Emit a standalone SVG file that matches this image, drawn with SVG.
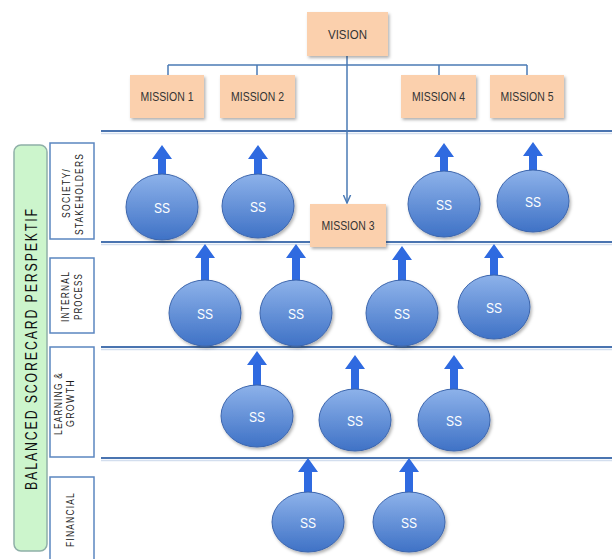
<svg xmlns="http://www.w3.org/2000/svg" width="612" height="559" viewBox="0 0 612 559">
  <defs>
    <linearGradient id="ssFill" x1="0" y1="0" x2="0" y2="1">
      <stop offset="0" stop-color="#8db2ea"/>
      <stop offset="1" stop-color="#3f72c6"/>
    </linearGradient>
    <filter id="shadow" x="-20%" y="-20%" width="150%" height="150%">
      <feDropShadow dx="1.5" dy="2" stdDeviation="1.5" flood-color="#000" flood-opacity="0.3"/>
    </filter>
    <marker id="arrowDown" viewBox="0 0 10 10" refX="9" refY="5" markerWidth="6" markerHeight="6" orient="auto">
      <path d="M0,1 L9,5 L0,9" fill="none" stroke="#4a7ab5" stroke-width="1.6"/>
    </marker>
  </defs>
  <style>
    .box { fill: #fbd0ad; filter: url(#shadow); }
    .boxText { font-family: "Liberation Sans", sans-serif; font-size: 13px; fill: #333; text-anchor: middle; }
    .conn { stroke: #4a7ab5; stroke-width: 1.5; fill: none; }
    .band { stroke: #4a74b0; stroke-width: 2.2; }
    .bandShade { stroke: #d3deee; stroke-width: 1.5; }
    .ss { fill: url(#ssFill); stroke: #3d66ad; stroke-width: 1; filter: url(#shadow); }
    .ssText { font-family: "Liberation Sans", sans-serif; font-size: 15px; fill: #ffffff; text-anchor: middle; }
    .up { fill: #2f6ae0; }
    .label { fill: #ffffff; stroke: #5b86c0; stroke-width: 1.5; }
    .labelText { font-family: "Liberation Sans", sans-serif; font-size: 10.5px; fill: #1a1a1a; text-anchor: middle; letter-spacing: 1.5px; }
    .title { font-family: "Liberation Sans", sans-serif; font-size: 16.5px; fill: #111; text-anchor: middle; letter-spacing: 2.5px; }
  </style>

  <!-- perspective band separators -->
  <g id="bands">
    <line class="bandShade" x1="101" y1="133.5" x2="612" y2="133.5"/>
    <line class="band" x1="101" y1="131" x2="612" y2="131"/>
    <line class="bandShade" x1="101" y1="244.5" x2="612" y2="244.5"/>
    <line class="band" x1="101" y1="242" x2="612" y2="242"/>
    <line class="bandShade" x1="101" y1="349.5" x2="612" y2="349.5"/>
    <line class="band" x1="101" y1="347" x2="612" y2="347"/>
    <line class="bandShade" x1="101" y1="460.5" x2="612" y2="460.5"/>
    <line class="band" x1="101" y1="458" x2="612" y2="458"/>
  </g>

  <!-- side title -->
  <g id="title">
    <rect x="14" y="145" width="33" height="406" rx="7" fill="#ccf5cc" stroke="#8fb0a8" stroke-width="1.5"/>
    <text class="title" transform="translate(37,348.5) rotate(-90)" textLength="283" lengthAdjust="spacingAndGlyphs">BALANCED SCORECARD PERSPEKTIF</text>
  </g>

  <!-- perspective labels -->
  <g id="label-society">
    <rect class="label" x="50" y="143" width="44" height="96"/>
    <text class="labelText" transform="translate(69.5,193) rotate(-90)" textLength="50" lengthAdjust="spacingAndGlyphs">SOCIETY/</text>
    <text class="labelText" transform="translate(83,194) rotate(-90)" textLength="82" lengthAdjust="spacingAndGlyphs">STAKEHOLDERS</text>
  </g>
  <g id="label-internal">
    <rect class="label" x="50" y="258" width="44" height="75"/>
    <text class="labelText" transform="translate(69,296.5) rotate(-90)" textLength="51" lengthAdjust="spacingAndGlyphs">INTERNAL</text>
    <text class="labelText" transform="translate(82,296.5) rotate(-90)" textLength="47" lengthAdjust="spacingAndGlyphs">PROCESS</text>
  </g>
  <g id="label-learning">
    <rect class="label" x="50" y="347" width="44" height="110"/>
    <text class="labelText" transform="translate(62,403.5) rotate(-90)" textLength="63" lengthAdjust="spacingAndGlyphs">LEARNING &amp;</text>
    <text class="labelText" transform="translate(73.5,403) rotate(-90)" textLength="48" lengthAdjust="spacingAndGlyphs">GROWTH</text>
  </g>
  <g id="label-financial">
    <rect class="label" x="50" y="477" width="44" height="84"/>
    <text class="labelText" transform="translate(74,519.5) rotate(-90)" textLength="55" lengthAdjust="spacingAndGlyphs">FINANCIAL</text>
  </g>

  <!-- vision to mission connectors -->
  <g id="connectors">
    <line class="conn" x1="347" y1="56" x2="347" y2="203" marker-end="url(#arrowDown)"/>
    <line class="conn" x1="168" y1="65" x2="527" y2="65"/>
    <line class="conn" x1="168" y1="65" x2="168" y2="75"/>
    <line class="conn" x1="257" y1="65" x2="257" y2="75"/>
    <line class="conn" x1="439" y1="65" x2="439" y2="75"/>
    <line class="conn" x1="527" y1="65" x2="527" y2="75"/>
  </g>

  <g id="vision">
    <rect class="box" x="307" y="12" width="81" height="44"/>
    <text class="boxText" x="347.5" y="39" textLength="39" lengthAdjust="spacingAndGlyphs">VISION</text>
  </g>
  <g id="mission-1">
    <rect class="box" x="130" y="75" width="74" height="43"/>
    <text class="boxText" x="167" y="101" textLength="53" lengthAdjust="spacingAndGlyphs">MISSION 1</text>
  </g>
  <g id="mission-2">
    <rect class="box" x="220" y="75" width="75" height="43"/>
    <text class="boxText" x="257.5" y="101" textLength="53" lengthAdjust="spacingAndGlyphs">MISSION 2</text>
  </g>
  <g id="mission-3">
    <rect class="box" x="310" y="204" width="76" height="43"/>
    <text class="boxText" x="348" y="230" textLength="53" lengthAdjust="spacingAndGlyphs">MISSION 3</text>
  </g>
  <g id="mission-4">
    <rect class="box" x="401" y="75" width="75" height="43"/>
    <text class="boxText" x="438.5" y="101" textLength="53" lengthAdjust="spacingAndGlyphs">MISSION 4</text>
  </g>
  <g id="mission-5">
    <rect class="box" x="490" y="75" width="74" height="43"/>
    <text class="boxText" x="527" y="101" textLength="53" lengthAdjust="spacingAndGlyphs">MISSION 5</text>
  </g>

  <!-- strategic objectives: upward arrow + ellipse -->
  <g id="ss-society-1">
    <path class="up" d="M162,145 L172,159 L166,159 L166,180 L158,180 L158,159 L152,159 Z"/>
    <ellipse class="ss" cx="162" cy="207" rx="36" ry="33"/>
    <text class="ssText" x="162" y="213" textLength="16" lengthAdjust="spacingAndGlyphs">SS</text>
  </g>
  <g id="ss-society-2">
    <path class="up" d="M258,145 L268,159 L262,159 L262,180 L254,180 L254,159 L248,159 Z"/>
    <ellipse class="ss" cx="258" cy="206" rx="36" ry="32"/>
    <text class="ssText" x="258" y="212" textLength="16" lengthAdjust="spacingAndGlyphs">SS</text>
  </g>
  <g id="ss-society-3">
    <path class="up" d="M444,143 L454,157 L448,157 L448,176 L440,176 L440,157 L434,157 Z"/>
    <ellipse class="ss" cx="444" cy="204" rx="36" ry="33"/>
    <text class="ssText" x="444" y="210" textLength="16" lengthAdjust="spacingAndGlyphs">SS</text>
  </g>
  <g id="ss-society-4">
    <path class="up" d="M533,142 L543,156 L537,156 L537,174 L529,174 L529,156 L523,156 Z"/>
    <ellipse class="ss" cx="533" cy="201" rx="36" ry="31"/>
    <text class="ssText" x="533" y="207" textLength="16" lengthAdjust="spacingAndGlyphs">SS</text>
  </g>

  <g id="ss-internal-1">
    <path class="up" d="M205,244 L215,258 L209,258 L209,286 L201,286 L201,258 L195,258 Z"/>
    <ellipse class="ss" cx="205" cy="313" rx="36" ry="33"/>
    <text class="ssText" x="205" y="319" textLength="16" lengthAdjust="spacingAndGlyphs">SS</text>
  </g>
  <g id="ss-internal-2">
    <path class="up" d="M296,244 L306,258 L300,258 L300,286 L292,286 L292,258 L286,258 Z"/>
    <ellipse class="ss" cx="296" cy="313" rx="36" ry="33"/>
    <text class="ssText" x="296" y="319" textLength="16" lengthAdjust="spacingAndGlyphs">SS</text>
  </g>
  <g id="ss-internal-3">
    <path class="up" d="M402,246 L412,260 L406,260 L406,286 L398,286 L398,260 L392,260 Z"/>
    <ellipse class="ss" cx="402" cy="313" rx="36" ry="33"/>
    <text class="ssText" x="402" y="319" textLength="16" lengthAdjust="spacingAndGlyphs">SS</text>
  </g>
  <g id="ss-internal-4">
    <path class="up" d="M494,244 L504,258 L498,258 L498,280 L490,280 L490,258 L484,258 Z"/>
    <ellipse class="ss" cx="494" cy="307" rx="36" ry="32"/>
    <text class="ssText" x="494" y="313" textLength="16" lengthAdjust="spacingAndGlyphs">SS</text>
  </g>

  <g id="ss-learning-1">
    <path class="up" d="M257,351 L267,365 L261,365 L261,390 L253,390 L253,365 L247,365 Z"/>
    <ellipse class="ss" cx="257" cy="416" rx="36" ry="31"/>
    <text class="ssText" x="257" y="422" textLength="16" lengthAdjust="spacingAndGlyphs">SS</text>
  </g>
  <g id="ss-learning-2">
    <path class="up" d="M355,355 L365,369 L359,369 L359,395 L351,395 L351,369 L345,369 Z"/>
    <ellipse class="ss" cx="355" cy="420" rx="36" ry="31"/>
    <text class="ssText" x="355" y="426" textLength="16" lengthAdjust="spacingAndGlyphs">SS</text>
  </g>
  <g id="ss-learning-3">
    <path class="up" d="M454,355 L464,369 L458,369 L458,395 L450,395 L450,369 L444,369 Z"/>
    <ellipse class="ss" cx="454" cy="420" rx="36" ry="31"/>
    <text class="ssText" x="454" y="426" textLength="16" lengthAdjust="spacingAndGlyphs">SS</text>
  </g>

  <g id="ss-financial-1">
    <path class="up" d="M308,458 L318,472 L312,472 L312,497 L304,497 L304,472 L298,472 Z"/>
    <ellipse class="ss" cx="308" cy="522" rx="36" ry="30"/>
    <text class="ssText" x="308" y="528" textLength="16" lengthAdjust="spacingAndGlyphs">SS</text>
  </g>
  <g id="ss-financial-2">
    <path class="up" d="M409,458 L419,472 L413,472 L413,497 L405,497 L405,472 L399,472 Z"/>
    <ellipse class="ss" cx="409" cy="522" rx="36" ry="30"/>
    <text class="ssText" x="409" y="528" textLength="16" lengthAdjust="spacingAndGlyphs">SS</text>
  </g>
</svg>
